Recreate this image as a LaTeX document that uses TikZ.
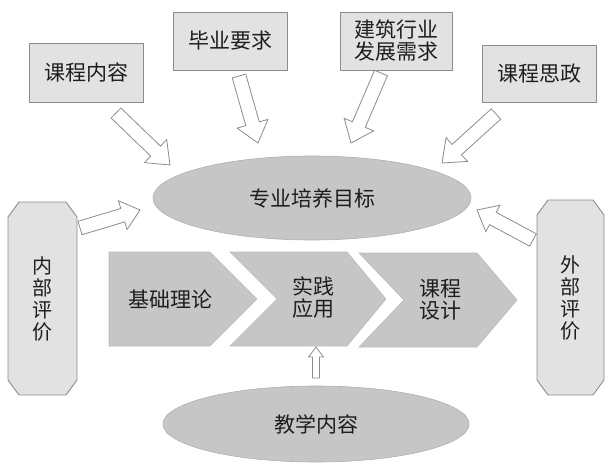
\documentclass[tikz,border=0pt]{standalone}
\usepackage{fontspec}
\setmainfont{Noto Sans CJK SC}
\usetikzlibrary{calc,shapes.geometric}
\definecolor{boxfill}{HTML}{E2E2E2}
\definecolor{darkfill}{HTML}{C6C6C6}
\definecolor{edge}{HTML}{8C8C8C}
\definecolor{ink}{HTML}{1E1E1E}
\tikzset{
  x=1pt, y=-1pt,
  lbl/.style={font=\fontsize{21pt}{22pt}\selectfont, text=ink, align=center, inner sep=0pt},
  topbox/.style={draw=edge, fill=boxfill, line width=0.9pt, rectangle, lbl},
  oval/.style={draw=edge!70, fill=darkfill, line width=0.6pt, ellipse, lbl},
  chev/.style={draw=edge!60, fill=darkfill, line width=0.6pt},
  octo/.style={draw=edge, fill=boxfill, line width=0.9pt},
  arr/.style={draw=edge, fill=white, line width=0.8pt, line join=miter},
}
\newcommand\blockarrow[5]{%
  \coordinate (h) at ($(#2)!#5!(#1)$);
  \draw[arr] ($(#1)!#3!90:(#2)$) -- ($(h)!#3!90:(#2)$) -- ($(h)!#4!90:(#2)$) -- (#2)
    -- ($(h)!#4!-90:(#2)$) -- ($(h)!#3!-90:(#2)$) -- ($(#1)!#3!-90:(#2)$) -- cycle;}
\begin{document}
\begin{tikzpicture}
\useasboundingbox (0,0) rectangle (609,465);
% top boxes
\node[topbox, minimum width=114pt, minimum height=59pt] (kcnr) at (86,72.5) {课程内容};
\node[topbox, minimum width=114pt, minimum height=58pt] (byyq) at (230,41) {毕业要求};
\node[topbox, minimum width=112pt, minimum height=58pt] (jzhy) at (396,41) {建筑行业\\发展需求};
\node[topbox, minimum width=114pt, minimum height=57pt] (kcsz) at (539,73.5) {课程思政};
% ellipses
\node[oval, minimum width=318pt, minimum height=84pt] (mubiao) at (312,198) {专业培养目标};
\node[oval, minimum width=306pt, minimum height=76pt] (jxnr) at (316,424) {教学内容};
% octagons
\draw[octo] (19,202) -- (66,202) -- (77,217) -- (77,380) -- (66,395) -- (19,395) -- (8,380) -- (8,217) -- cycle;
\node[lbl, font=\fontsize{20pt}{22pt}\selectfont] (nbpj) at (42.5,299) {内\\部\\评\\价};
\draw[octo] (548,200) -- (593,200) -- (604,215) -- (604,380) -- (593,395) -- (548,395) -- (537,380) -- (537,215) -- cycle;
\node[lbl, font=\fontsize{20pt}{22pt}\selectfont] (wbpj) at (570.5,298) {外\\部\\评\\价};
% chevrons
\draw[chev] (109,252) -- (210,252) -- (257,299) -- (210,346) -- (109,346) -- cycle;
\node[lbl] (jcll) at (170,299) {基础理论};
\draw[chev] (230,252) -- (347,252) -- (386,299) -- (347,346) -- (230,346) -- (277,299) -- cycle;
\node[lbl] (sjyy) at (313,298) {实践\\应用};
\draw[chev] (359,253) -- (477,253) -- (517,300) -- (477,347) -- (359,347) -- (404,300) -- cycle;
\node[lbl] (kcsj) at (440,300) {课程\\设计};
% block arrows
\coordinate (t1) at (116,113); \coordinate (p1) at (170,165);
\coordinate (t2) at (239,76);  \coordinate (p2) at (258,143);
\coordinate (t3) at (381,73);  \coordinate (p3) at (351,143);
\coordinate (t4) at (496,114); \coordinate (p4) at (442,163);
\coordinate (t5) at (80,228);  \coordinate (p5) at (140,210);
\coordinate (t6) at (533,240); \coordinate (p6) at (477,210);
\coordinate (t7) at (316,378); \coordinate (p7) at (316,347);
\blockarrow{t1}{p1}{7pt}{16pt}{20pt}
\blockarrow{t2}{p2}{7pt}{16pt}{20pt}
\blockarrow{t3}{p3}{7pt}{16pt}{20pt}
\blockarrow{t4}{p4}{7pt}{16pt}{20pt}
\blockarrow{t5}{p5}{7pt}{15pt}{18pt}
\blockarrow{t6}{p6}{7pt}{15pt}{18pt}
\blockarrow{t7}{p7}{3.5pt}{7.5pt}{10pt}
\end{tikzpicture}
\end{document}
